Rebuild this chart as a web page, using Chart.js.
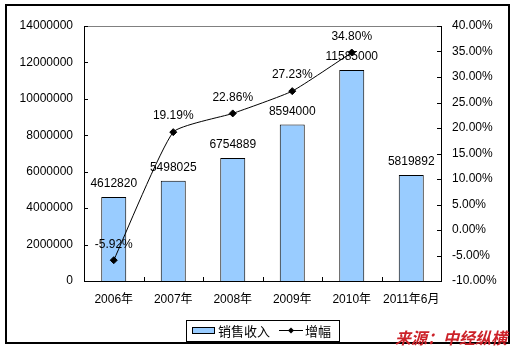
<!DOCTYPE html>
<html>
<head>
<meta charset="utf-8">
<script src="https://cdn.jsdelivr.net/npm/chart.js@4.4.1/dist/chart.umd.min.js"></script>
<style>
html,body{margin:0;padding:0;background:#fff;}
canvas{display:block;}
</style>
</head>
<body>
<canvas id="c" width="515" height="351"></canvas>
<script>
const categories = ['2006年','2007年','2008年','2009年','2010年','2011年6月'];
const salesRevenue = [4612820, 5498025, 6754889, 8594000, 11585000, 5819892];
const growthRate = [-5.92, 19.19, 22.86, 27.23, 34.80, null];
const seriesNames = ['销售收入', '增幅'];
const sourceNote = '来源：中经纵横';

const FONT = '"Liberation Sans", Arial, "Noto Sans CJK SC", sans-serif';
const CJK = '"Noto Sans CJK SC", "Liberation Sans", sans-serif';

const decor = {
  id: 'decor',
  afterDatasetsDraw(chart) {
    const ctx = chart.ctx;
    ctx.save();
    ctx.font = '12px ' + FONT;
    ctx.fillStyle = '#000';
    ctx.textAlign = 'center';
    ctx.textBaseline = 'middle';
    const barMeta = chart.getDatasetMeta(0);
    barMeta.data.forEach((el, i) => {
      ctx.fillText(String(salesRevenue[i]), el.x, el.y - 13);
    });
    const lineMeta = chart.getDatasetMeta(1);
    lineMeta.data.forEach((el, i) => {
      if (growthRate[i] == null) return;
      ctx.fillText(growthRate[i].toFixed(2) + '%', el.x, el.y - 16);
    });
    ctx.restore();
  },
  afterDraw(chart) {
    const ctx = chart.ctx;
    const ca = chart.chartArea;
    ctx.save();
    ctx.strokeStyle = '#808080';
    ctx.lineWidth = 1;
    ctx.beginPath();
    ctx.moveTo(ca.left, ca.top + 0.5);
    ctx.lineTo(ca.right, ca.top + 0.5);
    ctx.stroke();
    ctx.strokeStyle = '#000';
    const y = chart.scales.y, y1 = chart.scales.y1, x = chart.scales.x;
    ctx.beginPath();
    y.ticks.forEach(t => {
      const py = Math.round(y.getPixelForValue(t.value)) + 0.5;
      ctx.moveTo(ca.left, py); ctx.lineTo(ca.left + 4, py);
    });
    y1.ticks.forEach(t => {
      const py = Math.round(y1.getPixelForValue(t.value)) + 0.5;
      ctx.moveTo(ca.right - 4, py); ctx.lineTo(ca.right, py);
    });
    for (let i = 1; i < categories.length; i++) {
      const px = Math.round((x.getPixelForValue(i - 1) + x.getPixelForValue(i)) / 2) + 0.5;
      ctx.moveTo(px, ca.bottom); ctx.lineTo(px, ca.bottom - 4);
    }
    ctx.stroke();

    ctx.lineWidth = 2;
    ctx.strokeStyle = '#000';
    ctx.strokeRect(6, 5, 503, 338);

    const lx = 186, ly = 320, lw = 153, lh = 21;
    ctx.lineWidth = 1;
    ctx.fillStyle = '#fff';
    ctx.fillRect(lx, ly, lw, lh);
    ctx.strokeRect(lx + 0.5, ly + 0.5, lw, lh);
    ctx.fillStyle = '#99CCFF';
    ctx.fillRect(192.5, 327.5, 22, 6);
    ctx.strokeRect(192.5, 327.5, 22, 6);
    ctx.fillStyle = '#000';
    ctx.font = '13px ' + CJK;
    ctx.textAlign = 'left';
    ctx.textBaseline = 'middle';
    ctx.fillText(seriesNames[0], 218, 331);
    ctx.beginPath();
    ctx.moveTo(279, 330.5); ctx.lineTo(303, 330.5);
    ctx.stroke();
    ctx.beginPath();
    ctx.moveTo(291, 327.5); ctx.lineTo(294, 330.5); ctx.lineTo(291, 333.5); ctx.lineTo(288, 330.5);
    ctx.closePath(); ctx.fill();
    ctx.fillText(seriesNames[1], 305, 331);

    ctx.font = 'italic bold 16px ' + CJK;
    ctx.fillStyle = '#CC2229';
    ctx.textAlign = 'right';
    ctx.fillText(sourceNote, 507, 338);
    ctx.restore();
  }
};

new Chart(document.getElementById('c'), {
  data: {
    labels: categories,
    datasets: [
      {
        type: 'bar',
        label: seriesNames[0],
        data: salesRevenue,
        yAxisID: 'y',
        backgroundColor: '#99CCFF',
        borderColor: '#000',
        borderWidth: 1,
        categoryPercentage: 1,
        barPercentage: 0.42,
        order: 1
      },
      {
        type: 'line',
        label: seriesNames[1],
        data: growthRate,
        yAxisID: 'y1',
        borderColor: '#000',
        borderWidth: 1,
        backgroundColor: '#000',
        pointStyle: 'rectRot',
        pointRadius: 3.5,
        pointBackgroundColor: '#000',
        pointBorderColor: '#000',
        tension: 0.15,
        spanGaps: false,
        order: 0
      }
    ]
  },
  options: {
    responsive: false,
    animation: false,
    devicePixelRatio: 1,
    layout: { padding: { left: 0, right: 0, top: 26, bottom: 0 } },
    plugins: { legend: { display: false }, tooltip: { enabled: false } },
    scales: {
      x: {
        offset: true,
        grid: { display: false, drawTicks: false },
        border: { display: true, color: '#000', width: 1 },
        ticks: { padding: 11, color: '#000', maxRotation: 0, minRotation: 0, autoSkip: false,
          font: { size: 12, family: FONT } },
        afterFit(s) { s.height = 70; }
      },
      y: {
        position: 'left',
        min: 0, max: 14000000,
        grid: { display: false, drawTicks: false },
        border: { display: true, color: '#000', width: 1 },
        ticks: { stepSize: 2000000, padding: 11, color: '#000', font: { size: 12, family: FONT },
          callback: v => String(v) },
        afterFit(s) { s.width = 84; }
      },
      y1: {
        position: 'right',
        min: -10, max: 40,
        grid: { display: false, drawTicks: false },
        border: { display: true, color: '#000', width: 1 },
        ticks: { stepSize: 5, padding: 11, color: '#000', font: { size: 12, family: FONT },
          callback: v => v.toFixed(2) + '%' },
        afterFit(s) { s.width = 74; }
      }
    }
  },
  plugins: [decor]
});
</script>
</body>
</html>
